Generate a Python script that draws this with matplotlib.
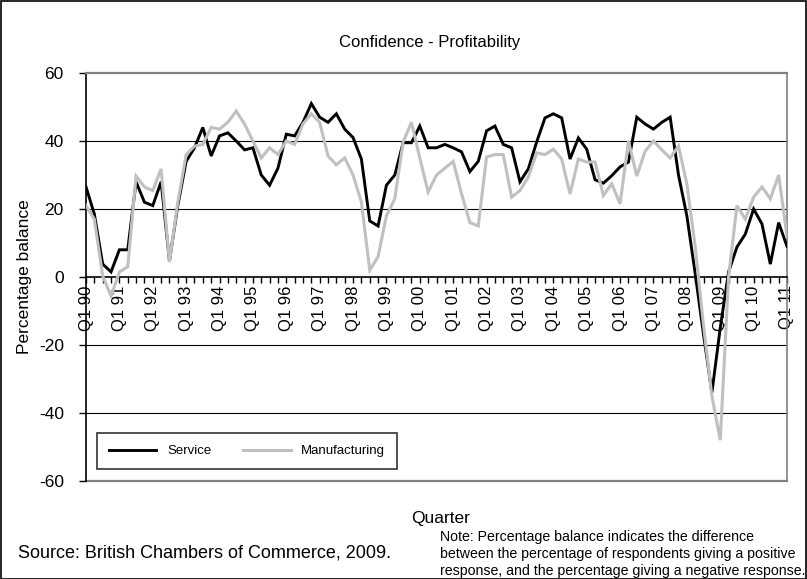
import matplotlib
matplotlib.use("Agg")
import matplotlib.pyplot as plt
from matplotlib.patches import Rectangle

# ---- data ----
years = list(range(1990, 2012))
tick_labels = ["Q1 %02d" % (y % 100) for y in years]

service = [26.5, 18.5, 3.8, 1.5, 8, 8, 28, 22, 21, 28, 4.7, 21,
           34, 38, 44, 35.6, 41.5, 42.4, 40, 37.4, 38, 30, 27, 32,
           42, 41.5, 45.5, 51, 47, 45.5, 48, 43.5, 41, 34.7, 16.5, 15,
           27, 30, 39.5, 39.5, 44.4, 38, 38, 39, 38, 36.8, 31, 34,
           43, 44.4, 39, 38, 28, 31.8, 39.7, 46.8, 48, 46.8, 34.7, 40.9,
           37.6, 28.6, 27.6, 29.8, 32.4, 33.8, 47, 45, 43.5, 45.5, 47, 30,
           18, 1, -17, -34, -15, 1.5, 8.8, 12.6, 20, 15.6, 3.8, 16, 9]

manufacturing = [21, 17, 0.3, -5.6, 1.5, 3, 29.7, 26.5, 25.4, 31.8, 4.4, 22,
                 36, 38.5, 39, 44, 43.5, 45.5, 48.8, 45, 40, 35, 38, 36,
                 40, 39, 45, 48, 45.5, 35.6, 33, 35, 30, 22, 2, 6,
                 18, 23, 39.7, 45.5, 35, 25, 30, 32, 34, 24.5, 16, 15,
                 35.3, 36, 36, 23.5, 25.4, 29.4, 36.5, 36, 37.6, 34.7, 24.4, 34.7,
                 33.8, 33.8, 24, 27.4, 21.5, 40, 29.7, 37, 40, 37.4, 35, 38.5,
                 27.4, 9, -14.4, -35, -48, 0, 21, 17, 23.5, 26.5, 23, 30, 12]

yticks = [-60, -40, -20, 0, 20, 40, 60]

W, H = 807, 579
fig = plt.figure(figsize=(W / 100, H / 100), dpi=100)
plt.rcParams['font.family'] = ['Liberation Sans', 'DejaVu Sans']

# outer frame
fig.patches.append(Rectangle((0.5 / W, 0.5 / H), 1 - 1.5 / W, 1 - 1.5 / H, transform=fig.transFigure,
                             fill=False, edgecolor='black', linewidth=1.2))

left, right, top, bottom = 86, 787, 73, 481
ax = fig.add_axes([left / W, 1 - bottom / H, (right - left) / W, (bottom - top) / H])

x = list(range(len(service)))
ax.plot(x, service, color='black', lw=2.1, label='Service', solid_joinstyle='miter', zorder=3)
ax.plot(x, manufacturing, color='#c0c0c0', lw=2.2, label='Manufacturing', solid_joinstyle='miter', zorder=4)

ax.set_xlim(0, len(service) - 1)
ax.set_ylim(-60, 60)

for g in [40, 20, -20, -40]:
    ax.axhline(g, color='black', lw=0.8, zorder=1)

# spines
ax.spines['bottom'].set_position(('data', 0))
ax.spines['bottom'].set_linewidth(1.2)
ax.spines['left'].set_linewidth(1.2)
ax.spines['top'].set_color('#808080')
ax.spines['top'].set_linewidth(1.6)
ax.spines['right'].set_color('#808080')
ax.spines['right'].set_linewidth(1.2)
ax.axhline(-60, color='#808080', lw=1.6, zorder=1, clip_on=False)

ax.set_xticks(list(range(0, len(service), 4)))
ax.set_xticklabels(tick_labels, rotation=90, fontsize=12)
ax.set_xticks(list(range(len(service))), minor=True)
ax.tick_params(axis='x', which='both', direction='out', length=4, width=1, pad=2)
ax.set_yticks(yticks)
ax.set_yticklabels([str(v) for v in yticks], fontsize=12.5)
ax.tick_params(axis='y', direction='out', length=5, width=1, pad=11)

ax.set_ylabel('Percentage balance', fontsize=12.5, labelpad=5)

fig.text(430 / W, 1 - 43 / H, 'Confidence - Profitability', ha='center', va='center', fontsize=12)
fig.text(441 / W, 1 - 519 / H, 'Quarter', ha='center', va='center', fontsize=12.5)
fig.text(18 / W, 1 - 553 / H, 'Source: British Chambers of Commerce, 2009.', ha='left', va='center', fontsize=13)
fig.text(440 / W, 1 - 554 / H,
         'Note: Percentage balance indicates the difference\n'
         'between the percentage of respondents giving a positive\n'
         'response, and the percentage giving a negative response.',
         ha='left', va='center', fontsize=10.2, linespacing=1.25)

leg = fig.legend(loc='center', ncol=2, bbox_to_anchor=(97 / W, 1 - 470 / H, 300 / W, 38 / H),
                 mode='expand', borderaxespad=0, frameon=True, fancybox=False, edgecolor='black',
                 fontsize=9.5, handlelength=3.6, borderpad=0.9)
leg.get_frame().set_linewidth(1.2)

fig.savefig('out.png', dpi=100)
